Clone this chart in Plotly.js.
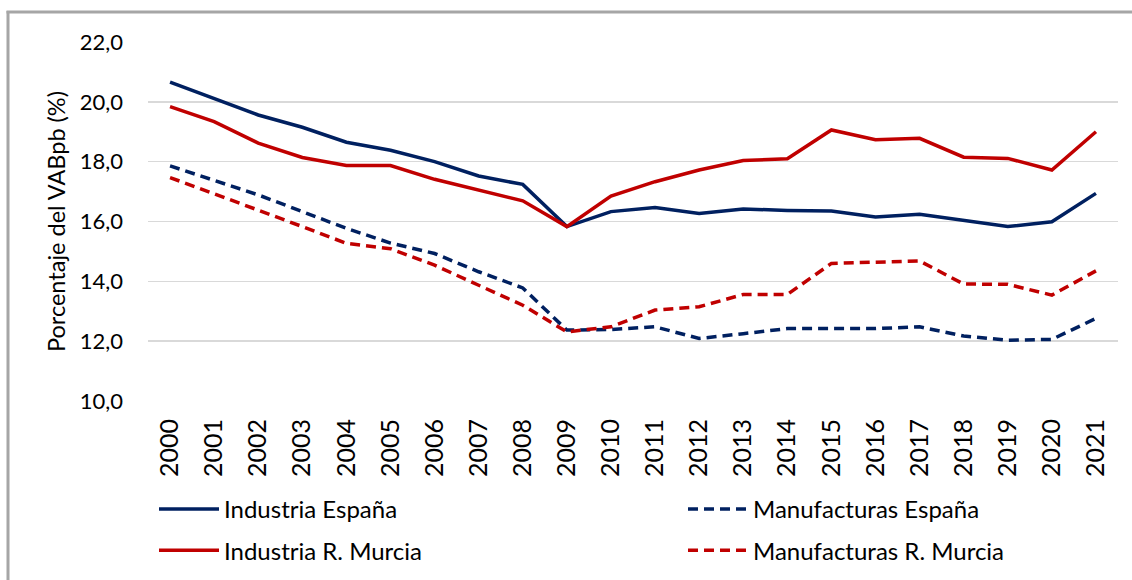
<!DOCTYPE html>
<html>
<head>
<meta charset="utf-8">
<script src="https://cdn.plot.ly/plotly-3.0.1.min.js"></script>
<style>
html,body{margin:0;padding:0;background:#fff;}
#chart{width:1132px;height:580px;}
</style>
</head>
<body>
<div id="chart"></div>
<script>
var years = ["2000","2001","2002","2003","2004","2005","2006","2007","2008","2009","2010",
             "2011","2012","2013","2014","2015","2016","2017","2018","2019","2020","2021"];
var industriaEspana = [20.66,20.12,19.56,19.15,18.65,18.38,18.0,17.52,17.24,15.83,16.33,
                       16.47,16.27,16.42,16.37,16.35,16.15,16.24,16.03,15.83,15.99,16.94];
var manufacturasEspana = [17.86,17.39,16.89,16.33,15.77,15.28,14.93,14.32,13.78,12.37,12.39,
                          12.48,12.09,12.25,12.42,12.42,12.42,12.48,12.17,12.03,12.06,12.76];
var industriaMurcia = [19.84,19.34,18.62,18.14,17.87,17.87,17.41,17.05,16.69,15.83,16.85,
                       17.33,17.72,18.04,18.1,19.06,18.73,18.78,18.15,18.11,17.72,19.0];
var manufacturasMurcia = [17.47,16.94,16.38,15.83,15.27,15.09,14.54,13.87,13.2,12.31,12.48,
                          13.04,13.15,13.56,13.56,14.6,14.65,14.68,13.91,13.9,13.54,14.35];
var names = ["Industria España","Manufacturas España","Industria R. Murcia","Manufacturas R. Murcia"];

var navy = "#002060", red = "#C00000";
var font = "Lato, 'Open Sans', sans-serif";

var traces = [
  {x: years, y: industriaEspana, name: names[0], legend: "legend", legendgroup: "a", line: {color: navy, width: 3.5}},
  {x: years, y: manufacturasEspana, name: names[1], legend: "legend2", legendgroup: "b", line: {color: navy, width: 3.5, dash: "10px,6px"}},
  {x: years, y: industriaMurcia, name: names[2], legend: "legend", legendgroup: "c", line: {color: red, width: 3.5}},
  {x: years, y: manufacturasMurcia, name: names[3], legend: "legend2", legendgroup: "d", line: {color: red, width: 3.5, dash: "10px,6px"}}
].map(function(t){ t.type = "scatter"; t.mode = "lines"; return t; });

var L = 148, R = 14, T = 42, B = 179;
var pw = 1132 - L - R, ph = 580 - T - B;
function px(x){ return (x - L) / pw; }
function py(y){ return (580 - B - y) / ph; }

var legendBase = {
  orientation: "v", xanchor: "left", yanchor: "top", itemwidth: 60,
  font: {family: font, size: 24}, tracegroupgap: 7, bgcolor: "rgba(0,0,0,0)",
  borderwidth: 0
};

var layout = {
  width: 1132, height: 580,
  margin: {l: L, r: R, t: T, b: B, autoexpand: false},
  paper_bgcolor: "#fff", plot_bgcolor: "#fff",
  font: {family: font, size: 20, color: "#000"},
  separators: ",.",
  showlegend: true,
  xaxis: {
    type: "category", range: [-0.5, 21.5], automargin: false,
    tickangle: -90, showgrid: false, zeroline: false, showline: false,
    ticks: "", tickfont: {family: font, size: 25}, ticklabelstandoff: 12
  },
  yaxis: {
    range: [10, 22], dtick: 2, tick0: 10, tickformat: ".1f", automargin: false,
    showgrid: true, gridcolor: "#d9d9d9", gridwidth: 1.5, zeroline: false, showline: false,
    ticks: "", tickfont: {family: font, size: 22}, ticklabelstandoff: 24,
    title: {text: "Porcentaje del VABpb (%)", font: {family: font, size: 23.5}, standoff: 7}
  },
  legend: Object.assign({}, legendBase, {x: px(154), y: py(487)}),
  legend2: Object.assign({}, legendBase, {x: px(683), y: py(487)}),
  shapes: [
    {type: "line", xref: "paper", yref: "paper", x0: px(8), x1: px(8), y0: py(11), y1: py(585),
     line: {color: "#a6a6a6", width: 3}},
    {type: "line", xref: "paper", yref: "paper", x0: px(6.5), x1: px(1140), y0: py(12), y1: py(12),
     line: {color: "#a6a6a6", width: 3}}
  ]
};

Plotly.newPlot("chart", traces, layout, {displayModeBar: false, staticPlot: true});
</script>
</body>
</html>
